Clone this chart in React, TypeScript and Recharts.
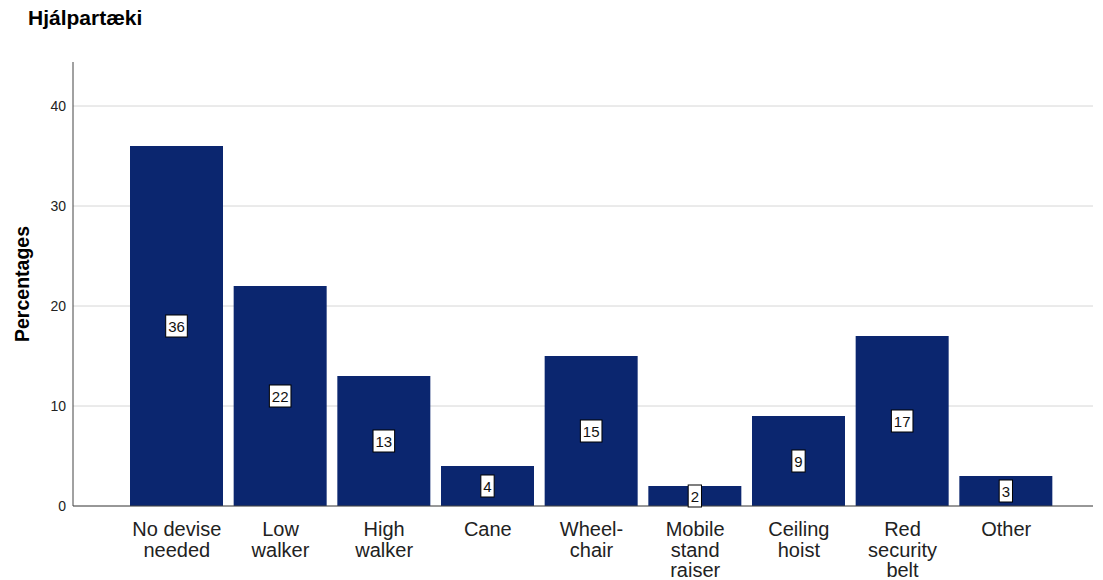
import { BarChart, Bar, XAxis, YAxis, CartesianGrid, LabelList } from "recharts";

const categories = [
  "No devise needed",
  "Low walker",
  "High walker",
  "Cane",
  "Wheel- chair",
  "Mobile stand raiser",
  "Ceiling hoist",
  "Red security belt",
  "Other",
];
const percentages = [36, 22, 13, 4, 15, 2, 9, 17, 3];
const yTicks = [0, 10, 20, 30, 40];

const tickLines: Record<string, string[]> = {
  "No devise needed": ["No devise", "needed"],
  "Low walker": ["Low", "walker"],
  "High walker": ["High", "walker"],
  Cane: ["Cane"],
  "Wheel- chair": ["Wheel-", "chair"],
  "Mobile stand raiser": ["Mobile", "stand", "raiser"],
  "Ceiling hoist": ["Ceiling", "hoist"],
  "Red security belt": ["Red", "security", "belt"],
  Other: ["Other"],
};

const data = categories.map((name, i) => ({ name, value: percentages[i] }));

const FONT = "'Liberation Sans', Arial, sans-serif";

function XTick(props: any) {
  const { x, y, payload } = props;
  const lines = tickLines[payload.value] || [payload.value];
  return (
    <text x={x} y={y} textAnchor="middle" fill="#222" fontSize={20} fontFamily={FONT}>
      {lines.map((l, i) => (
        <tspan key={i} x={x} dy={i === 0 ? 22 : 20.5}>
          {l}
        </tspan>
      ))}
    </text>
  );
}

function ValueBox(props: any) {
  const { x, y, width, height, value } = props;
  const cx = x + width / 2;
  const cy = y + height / 2;
  const w = String(value).length * 8.3 + 5;
  return (
    <g>
      <rect x={cx - w / 2} y={cy - 11} width={w} height={22} fill="#fff" stroke="#000" strokeWidth={1} />
      <text x={cx} y={cy + 5.5} textAnchor="middle" fontSize={15} fontFamily={FONT} fill="#111">
        {value}
      </text>
    </g>
  );
}

export default function App() {
  return (
    <div style={{ position: "absolute", left: 0, top: 0, width: 1103, height: 580, background: "#fff" }}>
      <div
        style={{
          position: "absolute",
          left: 28,
          top: 7,
          fontFamily: FONT,
          fontWeight: "bold",
          fontSize: 21,
          lineHeight: "21px",
          color: "#000",
        }}
      >
        Hjálpartæki
      </div>
      <BarChart
        width={1103}
        height={580}
        data={data}
        margin={{ top: 62, right: 10, left: 0, bottom: 0 }}
        barSize={93}
      >
        <CartesianGrid vertical={false} stroke="#d6d6d6" strokeWidth={1} syncWithTicks />
        <XAxis
          dataKey="name"
          interval={0}
          padding={{ left: 52, right: 35 }}
          tickLine={false}
          axisLine={{ stroke: "#444" }}
          tick={<XTick />}
          height={74}
        />
        <YAxis
          width={73}
          domain={[0, 44.4]}
          ticks={yTicks}
          tickLine={false}
          axisLine={{ stroke: "#444" }}
          tick={{ fontSize: 14, fill: "#222", fontFamily: FONT }}
          tickMargin={1}
          label={{
            content: (p: any) => {
              const vb = p.viewBox || {};
              const lx = 29;
              const ly = (vb.y || 62) + (vb.height || 444) / 2;
              return (
                <text
                  x={lx}
                  y={ly}
                  transform={`rotate(-90 ${lx} ${ly})`}
                  textAnchor="middle"
                  fontSize={19.5}
                  fontWeight="bold"
                  fontFamily={FONT}
                  fill="#000"
                >
                  Percentages
                </text>
              );
            },
          }}
        />
        <Bar dataKey="value" fill="#0b266f" isAnimationActive={false}>
          <LabelList dataKey="value" content={<ValueBox />} />
        </Bar>
      </BarChart>
    </div>
  );
}
